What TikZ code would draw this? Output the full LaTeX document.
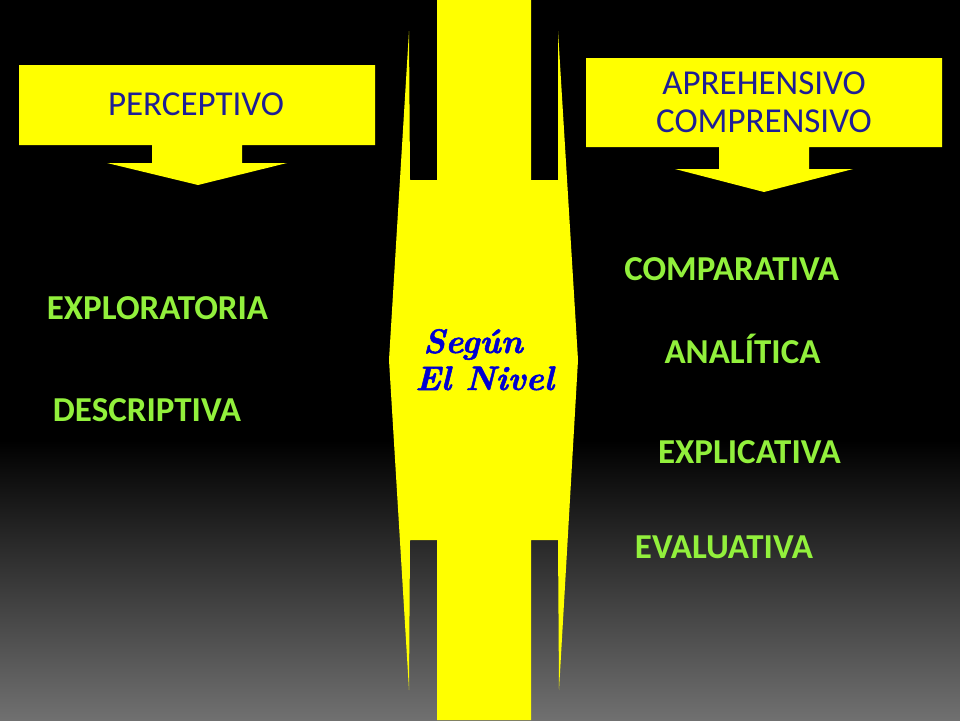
\documentclass[tikz,border=0pt]{standalone}
\usepackage{fontspec}
\setmainfont{Carlito}
\newfontfamily\nivelfont{lmroman10-bolditalic.otf}[FakeBold=1.5]
\definecolor{slideyellow}{RGB}{255,255,0}
\definecolor{boxblue}{RGB}{30,30,150}
\definecolor{lime}{RGB}{146,240,60}
\definecolor{nivelblue}{RGB}{0,0,210}
\definecolor{bottomgray}{RGB}{112,112,112}
\begin{document}
\begin{tikzpicture}[x=1pt,y=-1pt,
  yellowshape/.style={fill=slideyellow,draw=none},
  boxtext/.style={text=boxblue,font=\fontsize{35}{40}\selectfont,anchor=base,inner sep=0pt},
  kindtext/.style={text=lime,font=\bfseries\fontsize{35}{40}\selectfont,anchor=base,inner sep=0pt},
  niveltext/.style={text=nivelblue,font=\nivelfont\fontsize{34}{38}\selectfont,anchor=base west,inner sep=0pt}]
\useasboundingbox (0,0) rectangle (960,720);
% background
\fill[black] (0,0) rectangle (960,441);
\shade[top color=black,bottom color=bottomgray] (0,440) rectangle (960,720);
% central shape
\fill[yellowshape] (409,31) -- (389,360) -- (409,690) -- (410,540) -- (437,540) -- (437,720)
  -- (531,720) -- (531,540) -- (558,540) -- (559,690) -- (578,360) -- (558,31)
  -- (558,180) -- (531,180) -- (531,0) -- (437,0) -- (437,180) -- (410,180) -- cycle;
% left box with arrow
\fill[yellowshape] (19,65) -- (375,65) -- (375,145) -- (242,145) -- (242,163) -- (287,163)
  -- (198,185) -- (107,163) -- (152,163) -- (152,145) -- (19,145) -- cycle;
% right box with arrow
\fill[yellowshape] (586,58) -- (942,58) -- (942,147) -- (809,147) -- (809,169) -- (853,169)
  -- (764,192) -- (675,169) -- (719,169) -- (719,147) -- (586,147) -- cycle;
% box texts
\node[boxtext] (perc) at (196,115) {PERCEPTIVO};
\node[boxtext] (apre) at (764,94) {APREHENSIVO};
\node[boxtext] (comp) at (764,132) {COMPRENSIVO};
% center texts
\node[niveltext] (segun) at (423,353) {Según};
\node[niveltext] (nivel) at (415,390) {El Nivel};
% green texts
\node[kindtext] (explo) at (157.5,319) {EXPLORATORIA};
\node[kindtext] (descr) at (147,421.7) {DESCRIPTIVA};
\node[kindtext] (compa) at (731.7,280.7) {COMPARATIVA};
\node[kindtext] (anali) at (742.5,363.3) {ANALÍTICA};
\node[kindtext] (expli) at (749.5,463.3) {EXPLICATIVA};
\node[kindtext] (evalu) at (724,558.3) {EVALUATIVA};
\end{tikzpicture}
\end{document}
